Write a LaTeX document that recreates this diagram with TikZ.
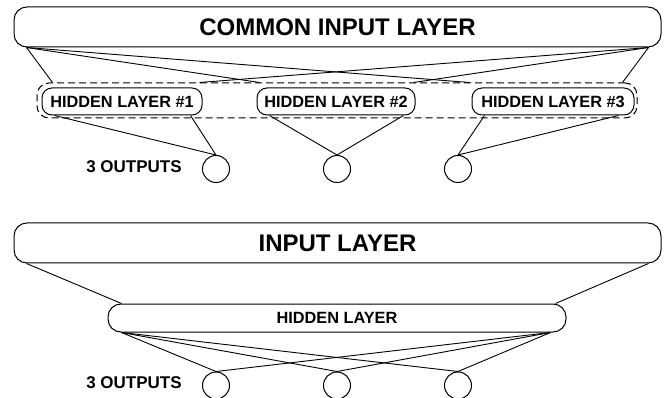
\documentclass[tikz,border=0pt]{standalone}
\usepackage{fontspec}
\setmainfont{Liberation Sans}
\usetikzlibrary{calc}
\tikzset{
  layerbox/.style={draw, line width=1pt, rounded corners=13pt, inner sep=0pt,
    font=\fontsize{24}{28}\selectfont\bfseries},
  hidbox/.style={draw, line width=1pt, rounded corners=10pt, inner sep=0pt,
    font=\fontsize{16.3}{19}\selectfont\bfseries},
  groupbox/.style={draw, line width=1pt, dash pattern=on 7pt off 4pt, rounded corners=12pt, inner sep=0pt},
  outnode/.style={draw, line width=1pt, circle, minimum size=27pt, inner sep=0pt},
  outlabel/.style={font=\fontsize{17}{20}\selectfont\bfseries, inner sep=0pt},
  wire/.style={line width=0.9pt}
}
\begin{document}
\begin{tikzpicture}[x=1pt,y=-1pt]
\useasboundingbox (0,0) rectangle (667,398);

% ---- shared input feeding three separate hidden layers ----
\node[layerbox, minimum width=647pt, minimum height=40pt] (cin) at (337.5,27) {COMMON INPUT LAYER};
\node[groupbox, minimum width=600pt, minimum height=35pt] (grp) at (337,100.5) {};
\node[hidbox, minimum width=160pt, minimum height=27pt] (h1) at (122,101.5) {HIDDEN LAYER \#1};
\node[hidbox, minimum width=158pt, minimum height=27pt] (h2) at (336,101.5) {HIDDEN LAYER \#2};
\node[hidbox, minimum width=162pt, minimum height=27pt] (h3) at (553,101.5) {HIDDEN LAYER \#3};
\node[outnode] (o1) at (216,169) {};
\node[outnode] (o2) at (337,169) {};
\node[outnode] (o3) at (458,169) {};
\node[outlabel] (lab1) at (134,167) {3 OUTPUTS};

\coordinate (cl) at ($(cin.south west)+(13,0)$);
\coordinate (cr) at ($(cin.south east)+(-13,0)$);
\coordinate (g1l) at ($(h1.north west)+(11,0)$);
\coordinate (g1r) at ($(h1.north east)+(-3,0)$);
\coordinate (g2l) at ($(h2.north west)+(3,0)$);
\coordinate (g2r) at ($(h2.north east)+(-2,0)$);
\coordinate (g3l) at ($(h3.north west)+(-2,0)$);
\coordinate (g3r) at ($(h3.north east)+(-12,0)$);

\draw[wire] (cl) -- (g1l |- grp.north);
\draw[wire] (cl) -- (g2l |- grp.north);
\draw[wire] (cl) -- (g3l |- grp.north);
\draw[wire] (cr) -- (g3r |- grp.north);
\draw[wire] (cr) -- (g2r |- grp.north);
\draw[wire] (cr) -- (g1r |- grp.north);

\draw[wire] ($(h1.south west)+(13,0)$) -- (o1.north);
\draw[wire] ($(h1.south east)+(-12,0)$) -- (o1.north);
\draw[wire] ($(h2.south west)+(13,0)$) -- (o2.north);
\draw[wire] ($(h2.south east)+(-12,0)$) -- (o2.north);
\draw[wire] ($(h3.south west)+(13,0)$) -- (o3.north);
\draw[wire] ($(h3.south east)+(-16,0)$) -- (o3.north);

% ---- single input, single hidden layer, three outputs ----
\node[layerbox, minimum width=647pt, minimum height=40pt] (in) at (337.5,243) {INPUT LAYER};
\node[hidbox, rounded corners=13pt, minimum width=458pt, minimum height=28pt] (hid) at (337,318) {HIDDEN LAYER};
\node[outnode] (p1) at (216,385.5) {};
\node[outnode] (p2) at (337,385.5) {};
\node[outnode] (p3) at (458,385.5) {};
\node[outlabel] (lab2) at (134,383) {3 OUTPUTS};

\draw[wire] ($(in.south west)+(13,0)$) -- ($(hid.north west)+(14,0)$);
\draw[wire] ($(in.south east)+(-13,0)$) -- ($(hid.north east)+(-11,0)$);
\foreach \p in {p1,p2,p3}{
  \draw[wire] ($(hid.south west)+(14,0)$) -- (\p.north);
  \draw[wire] ($(hid.south east)+(-16,0)$) -- (\p.north);
}
\end{tikzpicture}
\end{document}
